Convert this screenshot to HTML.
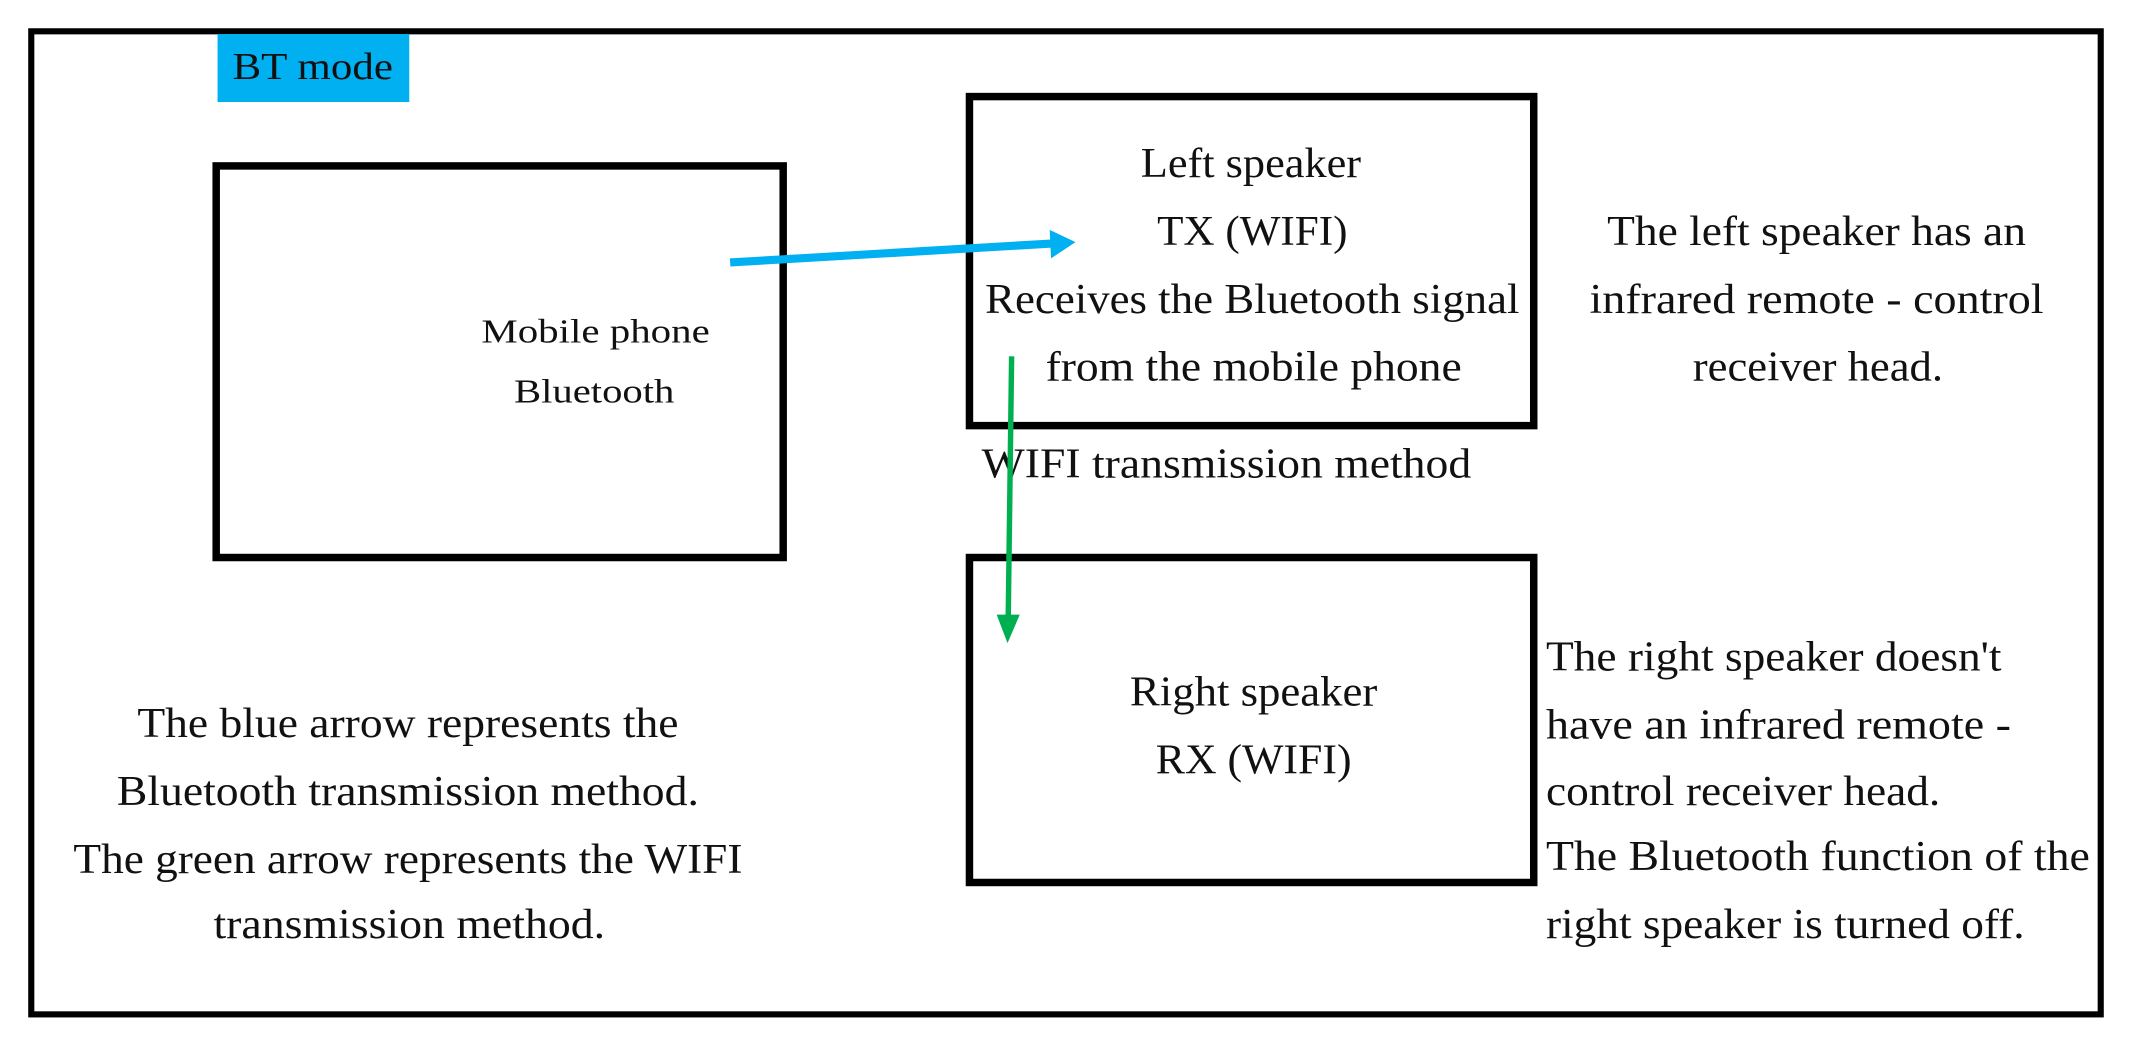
<!DOCTYPE html>
<html><head><meta charset="utf-8"><style>
html,body{margin:0;padding:0;background:#fff;}
svg{display:block}
text{font-family:"Liberation Serif",serif;fill:#111;}
</style></head><body>
<svg width="2132" height="1048" viewBox="0 0 1568 770.7" xmlns="http://www.w3.org/2000/svg">
<rect x="0" y="0" width="1568" height="771" fill="#fff"/>
<rect x="23" y="23" width="1522" height="723" fill="none" stroke="#000" stroke-width="4.5"/>
<rect x="160" y="25" width="141" height="50" fill="#00B0F0"/>
<text x="230" y="58" font-size="28" text-anchor="middle" textLength="118" lengthAdjust="spacingAndGlyphs">BT mode</text>
<text x="438" y="252" font-size="25" text-anchor="middle" textLength="168" lengthAdjust="spacingAndGlyphs">Mobile phone</text>
<text x="437" y="296" font-size="25" text-anchor="middle" textLength="118" lengthAdjust="spacingAndGlyphs">Bluetooth</text>
<rect x="159" y="122" width="417" height="288" fill="none" stroke="#000" stroke-width="5.5"/>
<rect x="713" y="71" width="415" height="242" fill="none" stroke="#000" stroke-width="5.5"/>
<g font-size="31" text-anchor="middle">
<text x="920" y="130" textLength="162" lengthAdjust="spacingAndGlyphs">Left speaker</text>
<text x="921" y="180" textLength="140" lengthAdjust="spacingAndGlyphs">TX (WIFI)</text>
<text x="921" y="230" textLength="393" lengthAdjust="spacingAndGlyphs">Receives the Bluetooth signal</text>
<text x="922" y="280" textLength="306" lengthAdjust="spacingAndGlyphs">from the mobile phone</text>
<text x="1336" y="180" textLength="308" lengthAdjust="spacingAndGlyphs">The left speaker has an</text>
<text x="1336" y="230" textLength="334" lengthAdjust="spacingAndGlyphs">infrared remote - control</text>
<text x="1337" y="280" textLength="184" lengthAdjust="spacingAndGlyphs">receiver head.</text>
<text x="922" y="519" textLength="182" lengthAdjust="spacingAndGlyphs">Right speaker</text>
<text x="922" y="569" textLength="144" lengthAdjust="spacingAndGlyphs">RX (WIFI)</text>
<text x="300" y="542" textLength="398" lengthAdjust="spacingAndGlyphs">The blue arrow represents the</text>
<text x="300" y="592" textLength="428" lengthAdjust="spacingAndGlyphs">Bluetooth transmission method.</text>
<text x="300" y="642" textLength="492" lengthAdjust="spacingAndGlyphs">The green arrow represents the WIFI</text>
<text x="301" y="690" textLength="288" lengthAdjust="spacingAndGlyphs">transmission method.</text>
</g>
<g font-size="31">
<text x="722" y="351" textLength="360" lengthAdjust="spacingAndGlyphs">WIFI transmission method</text>
<text x="1137" y="493" textLength="335" lengthAdjust="spacingAndGlyphs">The right speaker doesn't</text>
<text x="1137" y="543" textLength="342" lengthAdjust="spacingAndGlyphs">have an infrared remote -</text>
<text x="1137" y="592" textLength="290" lengthAdjust="spacingAndGlyphs">control receiver head.</text>
<text x="1137" y="640" textLength="400" lengthAdjust="spacingAndGlyphs">The Bluetooth function of the</text>
<text x="1137" y="690" textLength="352" lengthAdjust="spacingAndGlyphs">right speaker is turned off.</text>
</g>
<rect x="713" y="410" width="415" height="239" fill="none" stroke="#000" stroke-width="5.5"/>
<line x1="537" y1="193" x2="775" y2="179" stroke="#00B0F0" stroke-width="6"/>
<polygon points="791,178 772,169 773,190" fill="#00B0F0"/>
<line x1="744" y1="262" x2="741.5" y2="455" stroke="#00B050" stroke-width="4"/>
<polygon points="741,473 733,452 750,452" fill="#00B050"/>
</svg>
</body></html>
